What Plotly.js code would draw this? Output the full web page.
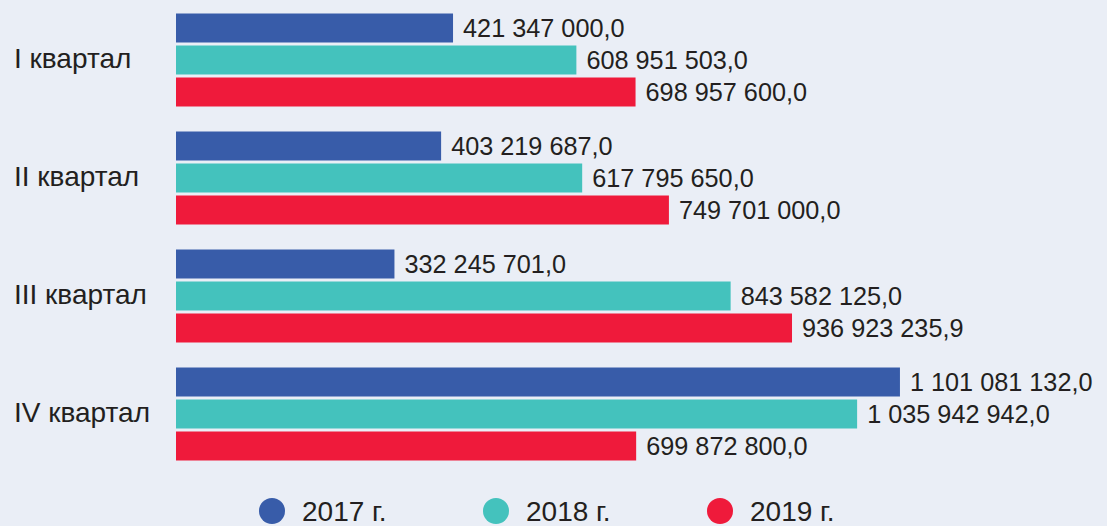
<!DOCTYPE html>
<html>
<head>
<meta charset="utf-8">
<script src="https://cdn.plot.ly/plotly-3.0.1.min.js"></script>
<style>
  html, body { margin: 0; padding: 0; background: #eaeef6; }
  #chart { width: 1107px; height: 526px; }
</style>
</head>
<body>
<div id="chart"></div>
<script>
const categories = ["I квартал", "II квартал", "III квартал", "IV квартал"];
const seriesNames = ["2017 г.", "2018 г.", "2019 г."];
const values2017 = [421347000.0, 403219687.0, 332245701.0, 1101081132.0];
const values2018 = [608951503.0, 617795650.0, 843582125.0, 1035942942.0];
const values2019 = [698957600.0, 749701000.0, 936923235.9, 699872800.0];
const colors = ["#385ca9", "#44c2bd", "#ef1a3b"];

const FONT = "Liberation Sans, Arial, sans-serif";
const TEXTCOLOR = "#231f20";
const FS = 26;
const FS_LABEL = 28;

const allValues = [values2017, values2018, values2019];
const traces = allValues.map((vals, i) => ({
  type: "bar",
  orientation: "h",
  name: seriesNames[i],
  y: categories,
  x: vals,
  texttemplate: "\u00a0%{x:,.1f}",
  textposition: "outside",
  cliponaxis: false,
  textfont: { family: FONT, size: FS, color: TEXTCOLOR },
  marker: { color: colors[i], line: { width: 0 } },
  hoverinfo: "skip",
  showlegend: false
}));

const annotations = categories.map(c => ({
  xref: "paper", yref: "y",
  x: -164 / 931, y: c, yshift: 2,
  xanchor: "left", yanchor: "middle",
  text: c, showarrow: false,
  font: { family: FONT, size: FS_LABEL, color: TEXTCOLOR }
}));

const shapes = [];
const legendX = [272, 496, 720];
const legendY = -38 / 472;
seriesNames.forEach((n, i) => {
  const px = (legendX[i] - 176) / 931;
  shapes.push({
    type: "circle", xref: "paper", yref: "paper",
    xsizemode: "pixel", ysizemode: "pixel",
    xanchor: px, yanchor: legendY,
    x0: -13, x1: 13, y0: -13, y1: 13,
    fillcolor: colors[i], line: { width: 0 }
  });
  annotations.push({
    xref: "paper", yref: "paper",
    x: (legendX[i] + 28 - 176) / 931, y: legendY,
    xanchor: "left", yanchor: "middle",
    text: n, showarrow: false,
    font: { family: FONT, size: FS_LABEL, color: TEXTCOLOR }
  });
});

const layout = {
  width: 1107, height: 526,
  margin: { l: 176, r: 0, t: 1, b: 53, pad: 0 },
  paper_bgcolor: "#eaeef6",
  plot_bgcolor: "#eaeef6",
  barmode: "group",
  bargap: 0.186,
  bargroupgap: 0.09,
  separators: ", ",
  showlegend: false,
  xaxis: { range: [0, 1.416e9], visible: false, fixedrange: true },
  yaxis: { autorange: "reversed", showticklabels: false, showgrid: false, zeroline: false, showline: false, ticks: "", fixedrange: true },
  annotations: annotations,
  shapes: shapes,
  font: { family: FONT }
};

Plotly.newPlot("chart", traces, layout, { displayModeBar: false, staticPlot: true });
</script>
</body>
</html>
